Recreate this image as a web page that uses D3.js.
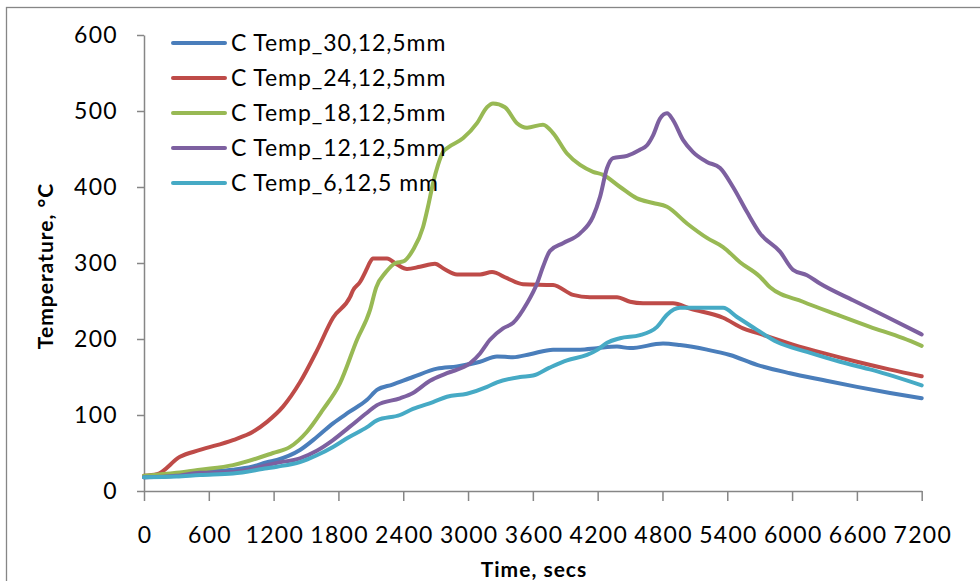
<!DOCTYPE html>
<html><head><meta charset="utf-8">
<script src="https://cdn.jsdelivr.net/npm/d3@7"></script>
<style>body{margin:0;background:#fff}svg{display:block}text{font-family:Lato,"Open Sans",sans-serif}</style>
</head><body><svg id="c" width="980" height="581"></svg>
<script>
const xTicks = [0,600,1200,1800,2400,3000,3600,4200,4800,5400,6000,6600,7200];
const yTicks = [0,100,200,300,400,500,600];
const seriesNames = ["C Temp_30,12,5mm","C Temp_24,12,5mm","C Temp_18,12,5mm","C Temp_12,12,5mm","C Temp_6,12,5 mm"];
const seriesColors = ["#4A7EBB","#BE4B48","#98B954","#7D60A0","#46AAC5"];

const t30 = [0,300,518,824,1000,1139,1231,1444,1600,1750,1900,2065,2157,2300,2490,2713,2898,3111,3268,3416,3574,3787,4037,4194,4379,4500,4805,4962,5212,5425,5675,5981,6286,6601,6907,7200];
const v30 = [18,21,25,28,32,38,41,54,71,89,104,120,133,140,150,161,164,170,177,176,180,186,186,188,190,188,194,192,186,179,166,155,146,137,129,122];

const t24 = [0,120,333,518,824,1009,1139,1287,1444,1602,1750,1907,1935,2000,2065,2092,2120,2250,2342,2435,2555,2694,2780,2898,3111,3222,3361,3509,3787,3972,4129,4379,4500,4620,4898,5055,5361,5546,5675,6000,6300,6600,6900,7200];
const v24 = [20,22,45,54,67,78,91,111,143,185,228,255,264,275,293,301,306,306,298,292,295,299,292,285,285,288,280,272,271,258,255,255,249,247,247,240,228,214,208,193,181,170,160,151];

const t18 = [0,300,518,824,1194,1352,1509,1657,1815,1972,2092,2150,2240,2330,2400,2490,2583,2629,2676,2722,2768,2805,2953,3083,3176,3231,3342,3453,3546,3694,3787,3916,4037,4157,4250,4408,4564,4713,4842,5027,5212,5361,5518,5703,5796,6101,6416,6721,7027,7200];
const v18 = [20,24,28,34,50,58,78,107,142,199,238,268,288,300,302,317,347,374,405,429,446,451,464,484,505,510,505,484,478,482,471,444,429,420,416,400,385,379,374,352,333,321,301,282,268,249,232,216,201,191];

const t12 = [0,300,518,824,1139,1231,1444,1600,1750,1900,2065,2157,2370,2490,2648,2805,3018,3111,3203,3324,3416,3546,3639,3694,3759,3879,4037,4157,4222,4287,4342,4472,4592,4657,4713,4777,4842,4898,4990,5083,5212,5333,5453,5583,5703,5888,6009,6138,6258,6564,6879,7200];
const v12 = [18,20,24,25,34,37,43,53,67,84,103,113,122,129,145,155,168,181,199,214,221,247,273,295,316,326,339,361,387,425,438,441,449,455,468,490,497,488,462,446,433,425,400,367,339,315,291,284,273,251,229,206];

const t6 = [0,300,518,824,1139,1231,1444,1600,1750,1900,2065,2157,2370,2490,2676,2805,2990,3176,3268,3481,3602,3750,3916,4101,4200,4287,4407,4592,4750,4842,4962,5361,5490,5675,5861,6138,6444,6749,7200];
const v6 = [18,19,21,23,30,32,38,47,58,71,84,93,100,108,117,124,128,137,143,150,152,162,172,179,186,195,201,205,216,232,241,241,229,212,196,183,170,159,139];

const seriesT = [t30,t24,t18,t12,t6];
const seriesV = [v30,v24,v18,v12,v6];

const svg = d3.select("#c");
const axisColor = "#868686";
const x = d3.scaleLinear().domain([0,7200]).range([144,921.7]);
const y = d3.scaleLinear().domain([0,600]).range([491,35]);

// outer frame
svg.append("rect").attr("x",6.5).attr("y",7.5).attr("width",1000).attr("height",1000)
  .attr("fill","none").attr("stroke",axisColor).attr("stroke-width",1.3);

// y axis
const gy = svg.append("g").attr("transform","translate(144,0)")
  .call(d3.axisLeft(y).tickValues(yTicks).tickSize(7).tickPadding(19).tickSizeOuter(0));
gy.select(".domain").attr("stroke",axisColor).attr("stroke-width",1.5);
gy.selectAll(".tick line").attr("stroke",axisColor).attr("stroke-width",1.5);
gy.selectAll(".tick text").attr("font-size",23).attr("letter-spacing","1.3px").attr("fill","#000").attr("font-family","Lato");

// x axis
const gx = svg.append("g").attr("transform","translate(0,491)")
  .call(d3.axisBottom(x).tickValues(xTicks).tickSize(10).tickPadding(26).tickSizeOuter(0).tickFormat(d3.format("d")));
gx.select(".domain").attr("stroke",axisColor).attr("stroke-width",1.5);
gx.selectAll(".tick line").attr("stroke",axisColor).attr("stroke-width",1.5);
gx.selectAll(".tick text").attr("font-size",23).attr("letter-spacing","1.3px").attr("dx","0.65").attr("fill","#000").attr("font-family","Lato");

// titles
svg.append("text").attr("x",534).attr("y",577).attr("text-anchor","middle")
  .attr("font-size",21).attr("letter-spacing","1px").attr("font-weight","bold").text("Time, secs");
svg.append("text").attr("transform","translate(53,266) rotate(-90)").attr("text-anchor","middle")
  .attr("font-size",21).attr("letter-spacing","1px").attr("font-weight","bold").text("Temperature, °C");

// lines
const line = d3.line().x(d=>x(d[0])).y(d=>y(d[1])).curve(d3.curveMonotoneX);
seriesT.forEach((ts,i)=>{
  const pts = ts.map((t,j)=>[t,seriesV[i][j]]);
  svg.append("path").attr("d",line(pts)).attr("fill","none")
    .attr("stroke",seriesColors[i]).attr("stroke-width",4)
    .attr("stroke-linejoin","round").attr("stroke-linecap","round");
});

// legend
const lg = svg.append("g");
seriesNames.forEach((n,i)=>{
  const cy = 43 + i*35;
  lg.append("line").attr("x1",173).attr("x2",225).attr("y1",cy).attr("y2",cy)
    .attr("stroke",seriesColors[i]).attr("stroke-width",4).attr("stroke-linecap","round");
  lg.append("text").attr("x",231).attr("y",cy+8).attr("font-size",23).attr("letter-spacing","0.9px").text(n);
});
</script></body></html>
